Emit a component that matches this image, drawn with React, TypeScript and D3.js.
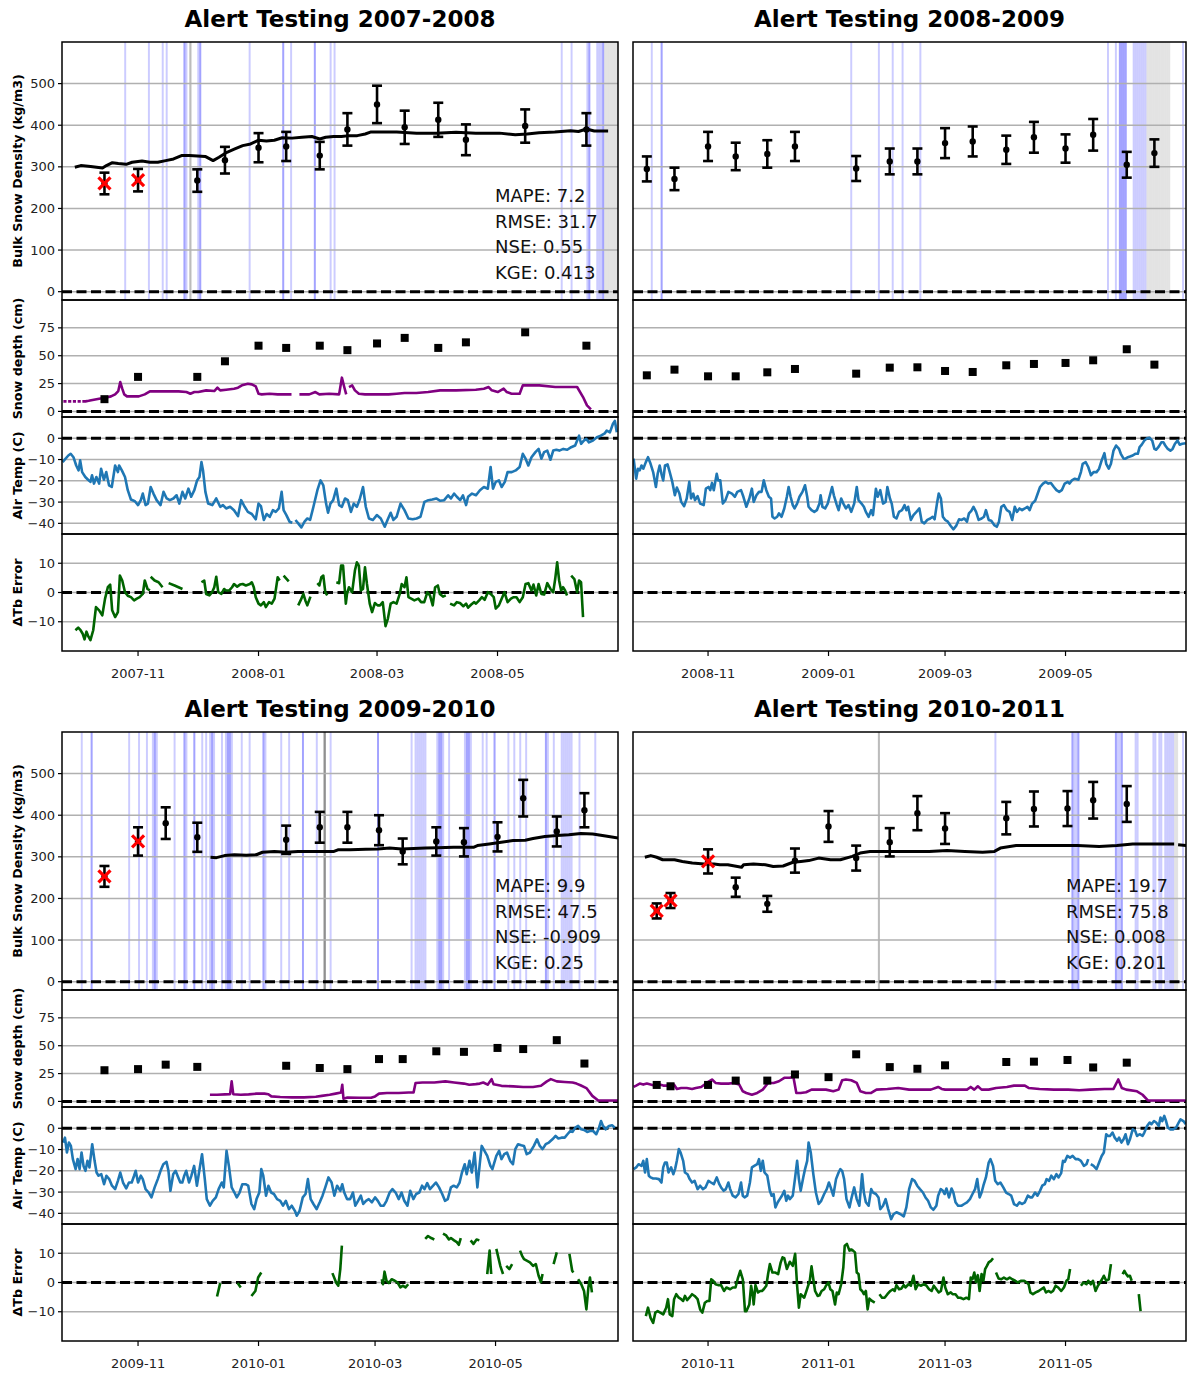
import React from "react";
import * as d3 from "d3";

// Every day offset below counts days from 1 November of the season's first year.
type Pt = [number, number] | null;
type Obs = [number, number, number, number]; // day, density, error, flagged (1 = red cross)

// ---------------- 2007-2008 ----------------
const densObs0708: Obs[] = [
  [-17, 260, 26, 1], [0, 268, 27, 1], [30, 267, 27, 0], [44, 316, 32, 0], [61, 346, 35, 0], [75, 349, 35, 0],
  [92, 327, 33, 0], [106, 390, 39, 0], [121, 450, 45, 0], [135, 395, 40, 0], [152, 413, 41, 0], [166, 365, 37, 0],
  [196, 398, 40, 0], [227, 390, 39, 0],
];
const densModel0708: Pt[] = [
  [-32, 299], [-29, 303], [-24, 301], [-18, 297], [-16, 303], [-13, 310], [-10, 308], [-6, 306], [-3, 311], [2, 314],
  [6, 311], [10, 311], [14, 315], [18, 319], [22, 327], [26, 327], [30, 326], [34, 325], [38, 315], [41, 323], [45, 335],
  [49, 343], [53, 351], [57, 355], [61, 364], [65, 362], [69, 364], [73, 370], [78, 369], [83, 371], [88, 373], [92, 367],
  [95, 371], [99, 373], [103, 373], [107, 375], [111, 375], [115, 379], [118, 384], [123, 384], [131, 384], [141, 381],
  [151, 381], [161, 383], [171, 381], [183, 381], [191, 377], [197, 379], [203, 382], [211, 384], [219, 387], [223, 385],
  [227, 391], [231, 386], [238, 386],
];
const depthObs0708: [number, number][] = [
  [-17, 11], [0, 31], [30, 31], [44, 45], [61, 59], [75, 57], [92, 59], [106, 55], [121, 61], [135, 66], [152, 57],
  [166, 62], [196, 71], [227, 59],
];
const depthModel0708: Pt[] = [
  [-37.8, 9], [-36.2, 9], null, [-35.4, 9], [-33.8, 9], null, [-33, 9], [-31.4, 9], null, [-30.6, 9], [-29, 9], null,
  [-28.2, 9], [-26.6, 9], [-25, 9.5], [-23.7, 10], [-19.7, 11.4], [-16.7, 12.3], [-13.7, 13.5], [-11.6, 15.3], [-10, 18.3],
  [-9, 26.4], [-8, 20.4], [-7, 15.3], [-5.6, 13.5], [-2.6, 13.5], [0.4, 13.5], [3.4, 15.3], [6, 18], [10.4, 18], [20.5, 18],
  [24.5, 17.4], [26.5, 15.9], [28.5, 17.4], [30.5, 17.4], [34.5, 18.9], [38.6, 18.3], [40.2, 21.3], [41.6, 18.9],
  [44.6, 19.5], [48.6, 20.4], [50.6, 21.3], [52.6, 23.4], [55.6, 24.9], [57.6, 24.3], [59.6, 22.5], [61, 15.9], [62.6, 15.3],
  [66.6, 15.9], [70.7, 15.3], [74.7, 15.3], [77.7, 15.3], null, [81.7, 15.3], [86.7, 15.3], [89.8, 17.4], [91.8, 15.3],
  [96.8, 15.9], [101.8, 15.3], [103.2, 30.3], [104.4, 21.9], [105.4, 15.3], null, [106.8, 21.9], [108.4, 23.4],
  [109.8, 18.9], [111.8, 15.9], [114.9, 15.3], [120.9, 15.3], [126.9, 15.3], [130.9, 15.9], [134.9, 16.5], [140.9, 16.5],
  [146.9, 17.4], [152.9, 18.9], [161, 18.9], [171, 19.5], [175.1, 20.4], [177.5, 21.9], [179.1, 18.9], [182.1, 17.4],
  [185.1, 20.4], [186.7, 17.4], [189.1, 15.9], [193.2, 15.9], [194.8, 23.4], [197.2, 23.4], [203.2, 23.4], [211.2, 21.9],
  [222.3, 21.9], [225.3, 12.9], [227.3, 5.4], [229.3, 1.8],
];
const airTemp0708: Pt[] = [
  [-38.2, -11.2], [-35.3, -8.1], [-34.1, -7.3], [-32.7, -8.9], [-31.3, -12.8], [-30.1, -15.1], [-29.3, -10.4], [-28.3, -15.9],
  [-26.7, -18.2], [-25.3, -19.5], [-24.1, -20.5], [-23.3, -17.4], [-22.3, -21.3], [-21.1, -18.2], [-19.7, -21.3],
  [-18.7, -14.3], [-17.3, -19.5], [-16.1, -15.9], [-14.7, -22.1], [-13.3, -22.9], [-11.6, -12.8], [-10.2, -15.9],
  [-9.6, -12.8], [-8.2, -15.1], [-6.6, -18.2], [-5.2, -24.4], [-3.6, -28.8], [-1.6, -29.6], [0, -31.4], [1.4, -29.1],
  [2.4, -26], [3.8, -31.4], [5, -30.7], [6.4, -22.9], [7.8, -26], [9.4, -29.1], [11.4, -31.4], [12.9, -25.2], [14.5, -28.3],
  [16.1, -29.1], [17.9, -28.3], [19.5, -26.8], [20.9, -30.7], [22.5, -25.2], [23.9, -28.3], [25.5, -23.7], [26.9, -27.5],
  [28.5, -24.4], [29.9, -19.8], [31.1, -18.2], [32.1, -11.2], [32.9, -15.1], [34.1, -25.2], [35.5, -30.7], [37.6, -31.4],
  [39.6, -28.3], [41.6, -32.2], [43, -31.4], [44.6, -33], [46.6, -32.2], [48.6, -33.8], [50.6, -36.6], [52.2, -29.1],
  [54, -32.2], [55.6, -34.6], [57.6, -35.6], [59.6, -38.1], [61, -30.7], [62.2, -31.9], [63.7, -38.4], [65.1, -35.6],
  [66.7, -36.9], [68.3, -33.8], [69.7, -34.6], [71.3, -33], [72.7, -25.2], [73.7, -33.8], [75.1, -36.1], [76.7, -39.2],
  [78.1, -39.7], null, [79.7, -38.4], [81.1, -40], [82.7, -41.9], [84.3, -39.2], [85.7, -37.7], [87.1, -38.4], [88.8, -32.2],
  [90.8, -24.4], [92.4, -19.8], [93.8, -22.1], [95.2, -30.7], [96.2, -35], [97.4, -30.7], [98.8, -29.1], [100.4, -23.7],
  [101.8, -31.4], [103.2, -32.2], [104.8, -28.3], [106.2, -29.1], [107.8, -34.6], [109.2, -30.7], [110.8, -32.2],
  [112.2, -28.8], [113.9, -22.9], [115.3, -32.2], [116.9, -37.7], [118.9, -38.4], [120.9, -36.1], [122.9, -37.7],
  [124.9, -41.6], [126.3, -38.4], [127.9, -35], [129.3, -38.4], [130.9, -36.9], [132.9, -30.7], [134.9, -33.8],
  [136.9, -37.7], [139, -38.1], [141, -37.7], [143, -36.9], [145, -29.9], [147, -29.1], [149, -28.8], [151, -28.3],
  [153, -29.4], [155, -29.1], [157, -26.8], [158.4, -28.3], [160, -26], [161.4, -27.5], [163.1, -29.1], [164.5, -26.8],
  [166.1, -31.4], [167.1, -27.5], [169.1, -26], [171.1, -26.8], [173.1, -24.4], [175.1, -22.9], [177.1, -23.7],
  [178.5, -13.5], [179.7, -23.7], [181.1, -20.5], [182.7, -19.8], [184.1, -22.9], [185.7, -20.5], [187.1, -15.9],
  [189.2, -15.9], [191.2, -15.1], [193.2, -13.5], [194.8, -7.3], [196.2, -9.6], [197.6, -12.8], [199.2, -8.9], [201.2, -6.5],
  [202.8, -5], [204.2, -9.6], [205.6, -6.5], [207.2, -5.8], [208.8, -10.1], [210.2, -5.8], [211.8, -5.4], [213.3, -5.8],
  [215.3, -5], [217.3, -5.4], [219.3, -4.2], [221.3, -3.4], [223.3, 1.2], [224.3, -2.6], [225.7, -1.1], [226.9, -0.3],
  [228.3, -1.9], [230.3, -1.1], [232.3, 0.5], [234.3, 1.2], [236.3, 2.3], [237.3, 3.6], [238.9, 2.8], [240.4, 6.7],
  [241.4, 8.2], [242.4, 2.8],
];
const dTb0708: Pt[] = [
  [-31.7, -12.9], [-30.3, -12], [-29.1, -12.9], [-28.1, -14], [-27.1, -16], [-26.1, -13.4], [-25.1, -15.1], [-24.1, -16.3],
  [-22.7, -12.9], [-21.3, -5], [-19.7, -6.1], [-18.1, -7.8], [-16.7, -2.1], [-15.3, 1.8], [-14.1, 2.7], [-13.1, -6.1],
  [-11.6, -8.4], [-10.2, -6.7], [-9.2, 5.8], [-8, 4.1], [-6.6, 0.1], [-5.2, -1.1], [-3.6, -1.6], [-2, -2.7], [-0.6, -2.1],
  [0.8, -1.6], [2.4, -0.5], [3.4, 4.1], [4.8, 1.2], [6, 0.7], null,
  [6.4, 5.4], [8.4, 4.1], [10.4, 3.5], [12.4, 1.8], null, [15.5, 3.2], [18.5, 2.4], [22.5, 1.2], null,
  [32.1, 3.5], [33.5, 4.1], [34.5, -0.5], [36.1, -1], [37.5, 0.1], [38.6, 1.8], [39.6, 5.4], [40.6, 0.1], [42.2, -0.5],
  [43.6, 1.2], [44.6, 0.7], [46.2, 0.7], [47.6, 1.8], [48.6, 2.9], [50.2, 2], [51.6, 2.7], [53, 2.9], [54.6, 2.4],
  [56.6, 2.9], [57.6, 3.5], [58.6, 1.8], [59.6, -1.6], [61, -3.8], [62.2, -4.4], [63.7, -3.3], [64.7, -5], [66.3, -3.3],
  [67.7, -3.8], [69.1, -2.1], [70.7, 5.2], [71.7, 4.1], null, [73.7, 5.8], [76.3, 3.8], null,
  [81.1, -4.4], [82.3, -2.7], [83.7, -0.5], [84.7, -2.7], [85.7, -4.4], [87.3, -1.4], null,
  [90.8, 3.2], [91.8, 2.4], [92.8, 5.2], [93.8, 5.8], [94.8, 0.1], [95.8, -1], null,
  [100.4, 3.5], [101.8, 3.2], [102.8, 9.2], [103.8, 9.2], [105.2, -3.8], [105.8, -0.5], [106.8, 1.8], [108.4, 0.1],
  [109.8, 7.5], [110.8, 10.3], [111.8, 9.2], [112.8, 0.7], [113.9, 1.2], [114.9, 8.6], [115.9, 2.9], [117.3, -3.8],
  [118.5, -6.7], [119.9, -3.6], [121.3, -4.4], [122.5, -4.4], [123.9, -3.3], [125.3, -11.5], [126.5, -8.9], [127.9, -3.8],
  [129.3, -3.3], [130.9, -3.8], [132.5, -0.5], [133.5, 2.9], [134.9, 1.8], [135.9, 5.2], [136.9, -1.6], [138.3, -2.1],
  [139.9, -2.7], [141.9, -2.1], [143.3, -3.3], [144.9, -3.3], [146.5, 0.1], [147.8, -1], [149.2, -4.4], [150.4, 1.8],
  [151.8, 2.4], [152.8, -0.5], [154.4, -1.4], [155.8, -1], null,
  [158, -3.8], [160, -4.4], [161.4, -3.3], [163, -3.6], [164.7, -4.7], [166.1, -3.8], [167.1, -5.2], [168.7, -4.1],
  [170.1, -3.3], [171.1, -3.8], [172.7, -2.7], [174.1, -1.6], [175.5, -2.5], [177.1, 0.1], [178.5, -0.5], [180.1, -1.6],
  [181.1, -5.5], [182.7, -4.4], [184.1, -2.1], [185.5, 0.1], [187.1, -3.3], [188.8, -2.1], [190.2, -1.6], [191.6, -1.6],
  [193.2, -3.3], [194.8, -1.6], [196.2, 2.9], [197.6, 3.2], [199.2, 0.7], [200.2, 2.7], [201.6, -1], [202.8, 2.9],
  [204.2, -0.5], [205.6, -0.7], [207.2, 3.2], [208.8, 1.2], [210.2, 0.1], [211.2, 4.6], [212.2, 10.3], [213.2, 4.1],
  [214.2, 0.7], [215.2, 1.8], [216.2, 0.7], [217.2, -1], null,
  [219.3, 5.8], [220.9, 4.6], [222.3, 0.1], [223.3, 4.1], [224.3, 3.5], [225.3, -8.4],
];
const blueDays0708 = [-7, 5, 12, 14, 23, 23, 24, 30, 31, 31, 56, 73, 73, 77, 89, 89, 97, 99, 214, 219, 227, 228, 228, 232, 233, 234, 235, 235];
const grayDays0708 = [26, 26, 26, 236, 237, 238, 239, 240, 241, 242];
const stats0708 = ["MAPE: 7.2", "RMSE: 31.7", "NSE: 0.55", "KGE: 0.413"];

// ---------------- 2008-2009 ----------------
const densObs0809: Obs[] = [
  [-31, 295, 30, 0], [-17, 271, 27, 0], [0, 349, 35, 0], [14, 325, 33, 0], [30, 331, 33, 0], [44, 349, 35, 0],
  [75, 296, 30, 0], [92, 313, 31, 0], [106, 313, 31, 0], [120, 357, 36, 0], [134, 361, 36, 0], [151, 341, 34, 0],
  [165, 371, 37, 0], [181, 344, 34, 0], [195, 377, 38, 0], [212, 305, 31, 0], [226, 333, 33, 0],
];
const densModel0809: Pt[] = [];
const depthObs0809: [number, number][] = [
  [-31, 32.4], [-17, 37.5], [0, 31.5], [14, 31.5], [30, 35.1], [44, 38.1], [75, 33.9], [92, 39.3], [106, 39.6],
  [120, 36.3], [134, 35.4], [151, 41.4], [165, 42.6], [181, 43.5], [195, 45.9], [212, 55.8], [226, 42],
];
const depthModel0809: Pt[] = [];
const airTemp0809: Pt[] = [
  [-37.7, -9.6], [-36.4, -19], [-35.5, -14.3], [-34.6, -15.1], [-33.7, -12.8], [-32.8, -14.3], [-31.5, -11.2], [-30.4, -8.9],
  [-29.1, -12], [-27.8, -15.9], [-26.4, -22.9], [-25.5, -16.7], [-24.5, -12.8], [-23.6, -16.7], [-22.7, -19.8],
  [-21.8, -12.8], [-20.5, -12.3], [-19.4, -15.9], [-18.1, -20.5], [-16.8, -26.8], [-15.8, -23.2], [-14.5, -26],
  [-13.6, -29.9], [-12.1, -31.9], [-10.8, -28.3], [-9.5, -20.5], [-8.6, -28.3], [-7.5, -26], [-6.6, -29.1], [-5.3, -27.2],
  [-4, -30.7], [-2.2, -31.4], [-1.1, -23.7], [0.2, -22.9], [1.1, -24.4], [2, -21], [2.9, -24.4], [4.4, -16.7], [5.1, -19.8],
  [6.2, -19.8], [7.5, -30.7], [8.8, -29.1], [10.3, -25.2], [12.1, -26], [13.6, -27.5], [14.8, -25.2], [16.7, -24.4],
  [17.9, -27.5], [19.4, -32.2], [20.9, -28.3], [22.2, -23.7], [23.1, -29.9], [24.5, -26.8], [25.8, -25.2], [27.1, -25.2],
  [28.2, -19.8], [29.5, -24.4], [30.8, -27.5], [31.9, -28.3], [32.6, -36.9], [33.7, -37.7], [35, -36.9], [35.9, -35.3],
  [37.2, -36.9], [38.6, -33], [39.9, -27.5], [40.8, -22.9], [41.8, -27.5], [42.9, -31.4], [43.8, -33], [45.1, -30.7],
  [46.3, -27.5], [47.8, -25.2], [49.1, -22.1], [50.2, -27.5], [50.9, -32.2], [52.4, -33.8], [53.8, -34.6], [55.1, -33.8],
  [56.4, -30.7], [57, -26.8], [57.9, -32.2], [59.3, -33], [60.6, -30.7], [61.5, -27.5], [62.8, -22.9], [63.7, -26.8],
  [65.2, -31.4], [66.1, -33.8], [67.4, -28.3], [68.5, -30.7], [69.8, -33], [71.1, -31.4], [72.5, -34.6], [74, -30.7],
  [75.3, -22.9], [76.2, -29.1], [77.7, -30.7], [78.9, -32.2], [79.9, -34.6], [81.3, -36.9], [82.6, -33.8], [83.5, -36.1],
  [85, -23.7], [85.9, -27.5], [87.2, -24.4], [88.6, -30.7], [89.9, -29.9], [90.8, -22.9], [92.1, -28.3], [93, -30.7],
  [94.1, -36.9], [95.4, -37.7], [96.7, -34.6], [98.2, -33.8], [99.5, -31.4], [100.4, -33.8], [101.3, -32.2],
  [102.7, -38.4], [104, -36.1], [105.5, -34.6], [107, -33], [108.2, -39.2], [109.5, -40], [111, -38.4], [112.5, -37.7],
  [113.7, -36.9], [114.7, -38.1], [115.9, -30.7], [116.8, -26], [117.9, -28.3], [118.9, -36.9], [120.1, -38.4],
  [121.4, -39.2], [122.9, -41.2], [124.2, -42.8], [125.6, -41.2], [127.1, -38.1], [128.4, -38.4], [129.7, -37.7],
  [131.1, -39.2], [132.1, -35.3], [133.3, -34.1], [134.4, -32.2], [135.7, -34.6], [137, -38.4], [138.5, -37.7],
  [139.7, -36.9], [140.7, -33.8], [142.1, -38.4], [143.4, -38.8], [144.9, -40.8], [146.2, -41.6], [147.3, -39.2],
  [148.5, -32.2], [149.8, -31.4], [151.3, -33.8], [152.7, -34.6], [154, -38.4], [155.3, -32.2], [156.4, -34.6],
  [157.7, -33], [159, -33.8], [160.4, -33], [161.7, -32.2], [162.8, -33.8], [164.1, -30.7], [165.6, -29.4], [166.8, -26.3],
  [168.1, -22.9], [169.6, -21.3], [170.9, -20.5], [172.3, -21.3], [173.6, -21], [175.1, -22.9], [176.4, -24.4],
  [177.8, -25.2], [179.1, -24.4], [180.6, -21.3], [182.1, -20.5], [183, -21.3], [184.2, -19.8], [185.7, -19], [187.5, -19.5],
  [188.8, -15.9], [189.7, -12], [191.2, -11.2], [192.5, -13.5], [193.9, -17.4], [195.2, -15.9], [196.7, -15.9], [198, -14.3],
  [199.3, -10.4], [200.7, -7], [201.6, -12], [202.9, -14.3], [204, -12], [205.3, -5.8], [206.6, -3.4], [208.1, -5],
  [209, -7.3], [210.4, -9.6], [211.4, -9.6], [212.6, -8.9], [213.6, -8.6], [215, -8.1], [216.3, -7.3], [217.6, -7.3],
  [218.5, -4.2], [219.6, -3], [220.9, -1.1], [222.3, 0], [223.6, 0.2], [224.9, -1.1], [226, -5], [226.9, -5.4], [228.2, -3.9],
  [229.5, -1.9], [230.6, -1.9], [231.5, -3.4], [232.8, -5], [234.1, -5.8], [235.2, -5], [236.4, -2.6], [237.7, -1.1],
  [238.8, -3], [240.1, -2.6], [241.9, -2.3],
];
const dTb0809: Pt[] = [];
const blueDays0809 = [-29, -24, -24, 72, 86, 93, 98, 107, 202, 206, 208, 209, 210, 211, 208, 209, 210, 211, 215, 216, 217, 218, 219, 220, 221, 240];
const grayDays0809 = [222, 223, 224, 225, 226, 227, 228, 229, 230, 231, 232, 233];
const stats0809: string[] = [];

// ---------------- 2009-2010 ----------------
const densObs0910: Obs[] = [
  [-17, 253, 25, 1], [0, 337, 34, 1], [14, 381, 38, 0], [30, 347, 35, 0], [75, 341, 34, 0], [92, 371, 37, 0],
  [106, 371, 37, 0], [122, 364, 36, 0], [134, 313, 31, 0], [151, 337, 34, 0], [165, 335, 34, 0], [182, 348, 35, 0],
  [195, 441, 44, 0], [212, 361, 36, 0], [226, 412, 41, 0],
];
const densModel0910: Pt[] = [
  [36.7, 299], [39.7, 298], [43.8, 303], [48.8, 305], [54.8, 304], [59.9, 305], [63, 311], [69, 313], [75, 311], [81, 313],
  [87, 313], [93.1, 313], [99.2, 313], [101.2, 317], [107.3, 317], [115.3, 318], [121.4, 319], [127.4, 321], [133.5, 319],
  [139.5, 320], [145.6, 321], [151.6, 322], [159.7, 323], [169.8, 323], [171.8, 327], [177.8, 331], [183.9, 335],
  [189.9, 339], [196, 340], [200, 344], [206, 349], [212.1, 351], [218.1, 353], [224.2, 356], [230.2, 355], [234.3, 352],
  [238.3, 349], [243.3, 345],
];
const depthObs0910: [number, number][] = [
  [-17, 28], [0, 29], [14, 33], [30, 31], [75, 32], [92, 30], [106, 29], [122, 38], [134, 38], [151, 45], [165, 44.5],
  [182, 48], [195, 47], [212, 55], [226, 34],
];
const depthModel0910: Pt[] = [
  [36.4, 6], [40, 6], [44, 6.3], [46.6, 6.5], [47.4, 18], [48.2, 6.5], [52, 6], [56, 6.3], [60, 7], [64, 7], [66, 6.5],
  [67.5, 4.5], [72, 4], [78, 3.6], [84, 3.6], [90, 4.2], [93, 5], [97, 6], [100, 7], [102.8, 8], [103.4, 15], [104, 2.5],
  [106, 3.5], [112, 3.3], [118, 3.3], [120, 4.5], [122, 7], [126, 7.5], [132, 7.5], [137, 8], [139.5, 8], [140.5, 16.5],
  [144, 17], [150, 17], [155.6, 18], [160, 17], [165, 16], [167.7, 15], [171, 15.5], [173, 16], [174.8, 17], [177, 15],
  [179, 20], [180, 15.5], [184, 14], [190, 13.5], [195, 13], [200, 13], [204, 14], [207, 18], [209, 20], [212, 18],
  [216, 17.5], [220, 17], [222, 16], [224, 14.5], [227, 12], [230, 5], [233, 0.8], [238, 0.8], [243, 0.8],
];
const airTemp0910: Pt[] = [
  [-38, -6.7], [-37, -4.4], [-36, -11.4], [-35, -6.7], [-34, -8.3], [-33, -14.5], [-31.6, -19.2], [-30.6, -14.5],
  [-29.6, -19.2], [-28.6, -11.4], [-27.6, -17.7], [-26.6, -20], [-25.6, -15.3], [-24.6, -18.4], [-23.2, -7.5], [-22, -15.3],
  [-21, -20.8], [-20, -22.3], [-18.6, -21.6], [-17.2, -26.3], [-16, -22.3], [-14.6, -23.9], [-13.2, -27], [-11.6, -28.6],
  [-10.2, -24.7], [-9, -20.8], [-7.6, -25.5], [-6, -28.3], [-4.6, -25.5], [-3.2, -25.5], [-2, -22.3], [-1.2, -20],
  [0, -25.5], [1.4, -22.3], [2.4, -23.9], [3.8, -28.6], [5.4, -30.2], [6.8, -32.5], [8.4, -27.8], [10, -23.9], [11.4, -20],
  [12.8, -16.9], [14.4, -15.8], [15.4, -20], [16.4, -29.4], [17.8, -21.6], [19, -20], [20, -22.3], [21.4, -25.5],
  [22.4, -25.5], [23.4, -22.3], [24.4, -20], [25.8, -25.5], [27, -22.3], [28.4, -17.7], [29.8, -27], [31.4, -17.7],
  [32.4, -12.2], [33.8, -23.9], [34.8, -33.3], [36.4, -36.4], [37.8, -34.1], [39.4, -32.5], [40.8, -28.6], [42.4, -25.5],
  [43.4, -27.8], [44.8, -10.6], [46, -17.7], [47.4, -27.8], [48.8, -30.2], [50, -32.5], [51.4, -30.2], [52.8, -26.3],
  [54.4, -26.3], [55.8, -27], [57.4, -35.6], [58.8, -38], [60, -33.3], [61.4, -30.2], [62.4, -19.2], [63.4, -22.3],
  [64.8, -31.7], [66, -27], [67.4, -30.2], [68.8, -30.9], [70.4, -33.3], [72, -34.1], [73.4, -36.4], [74.8, -34.1],
  [76.4, -38], [77.8, -36.4], [79.4, -38.8], [80.4, -41.1], [81.8, -38.8], [83.4, -32.5], [84.8, -30.9], [86, -23.9],
  [87.4, -33.3], [88.8, -35.6], [90.4, -38], [92, -34.8], [93.4, -31.7], [94.8, -27.8], [96.4, -23.1], [98, -25.5],
  [99.4, -31.7], [100.8, -27], [102.4, -29.4], [103.4, -26.3], [104.4, -30.2], [105.8, -33.3], [107.4, -33.3],
  [108.8, -30.2], [110, -36.4], [111.4, -34.1], [112.8, -31.7], [114, -35.6], [115.4, -34.1], [116.8, -33.3],
  [118.4, -34.8], [120, -32.5], [121.4, -34.1], [122.8, -36.4], [124.4, -36.4], [125.8, -34.1], [127.4, -30.2],
  [128.8, -28.6], [130.4, -30.2], [132, -33.3], [133.4, -30.2], [134.8, -34.1], [136.4, -36.4], [137.8, -29.4],
  [139.4, -33.3], [140.8, -30.9], [142.4, -30.2], [143.8, -27], [145, -28.6], [146.4, -25.8], [147.8, -28.6], [149.4, -27],
  [150.8, -25.5], [152.4, -27.8], [154, -30.9], [155.4, -34.1], [156.8, -33.3], [158.4, -27.8], [159.8, -27],
  [161.4, -27.8], [162.8, -25.5], [164, -20.8], [165.4, -16.9], [166.4, -21.6], [167.8, -15.3], [169, -20.8],
  [170.4, -11.4], [171.8, -27.8], [173, -16.9], [174, -8.3], [175.4, -10.6], [176.8, -13], [178.4, -17.7], [179.4, -19.2],
  [181.4, -13], [182.8, -10.6], [184, -14.5], [185.4, -12.2], [186.8, -11.4], [188.4, -15.3], [189.8, -16.9], [191, -9.8],
  [192.4, -7.5], [194, -8], [195.4, -8.3], [196.8, -12.2], [198.4, -11.4], [200.4, -8.3], [202, -5.2], [203.4, -8.3],
  [204.8, -9.8], [206.4, -7.5], [208, -6.7], [209.8, -5.2], [211.4, -3.6], [212.8, -4.8], [214.4, -4.4], [216, -4.4],
  [217.4, -2.8], [218.8, -1.3], [220, -1.7], [221.4, 0.3], [222.8, 1.1], [224.4, -0.5], [225.8, -0.8], [227.4, -1.7],
  [228.8, -1.3], [230.4, -1.3], [232, -2.8], [233.4, 0.3], [234.4, 3.4], [235.4, 1.1], [236.8, -0.5], [238.4, 1.1],
  [240, 1.4], [241.4, 0.3],
];
const dTb0910: Pt[] = [
  [40, -4.8], [41.6, -0.2], null, [50.4, -0.2], [52, -1.7], null,
  [57.4, -4.6], [59.4, -2.9], [60.8, 1.7], [62.4, 3.4], null,
  [98.4, 3.2], [100.4, -0.2], [101.4, -1.1], [102.4, 4.6], [103.2, 12.6], null,
  [123.4, 1.1], [124, -0.6], [124.8, 3.7], [125.8, 0.6], [127, -0.2], [128.4, 1.1], [130, 0.6], [131.4, 0], [132.8, -1.7],
  [134, -1.1], [135.4, -1.7], [136.8, -0.6], null,
  [145.4, 14.9], [146.8, 15.9], [148.4, 15.2], [150, 14.7], null,
  [154.4, 16.7], [156, 16.1], [157.4, 14.7], [158.4, 15.2], [160, 14.4], [161.4, 13.8], [162.4, 12.9], [163.4, 15.2], null,
  [168.4, 14.4], [169.8, 13.2], [171.4, 14.7], [172.8, 14.4], null,
  [176.8, 2.9], [178, 10.9], [178.8, 2.9], null,
  [181.4, 11.5], [183.4, 5.7], [184.8, 2.9], null,
  [186.4, 5.7], [188, 4.6], [189.4, 6.3], null,
  [193.4, 10.9], [194.4, 9.2], [195.4, 8], [196.8, 7.5], [198.4, 6.9], [200, 5.7], [201.4, 6.3], [202.8, 2.3], [204, 0.2],
  [204.8, 2.9], null,
  [210.4, 6.3], [212, 10.3], null,
  [218.4, 9.8], [219.8, 4], [220.4, 3.4], null,
  [222.8, 1.1], [224.4, -0.6], [225.8, -2.9], [227, -9.2], [228, -1.7], [228.8, 1.7], [229.8, -3.4],
];
const blueDays0910 = [
  -29, -24, -24, -5, 0, 4, 7, 8, 8, 9, 18, 23, 23, 24, 28, 28, 32, 34, 36, 37, 37, 38, 42, 44, 45, 45, 46, 46, 47, 52, 56,
  63, 63, 64, 72, 76, 83, 83, 90, 97, 121, 121, 138, 140, 141, 142, 143, 144, 145, 151, 152, 152, 153, 153, 154, 157, 165,
  166, 166, 167, 167, 168, 174, 176, 180, 180, 187, 190, 193, 196, 206, 206, 207, 210, 214, 215, 216, 217, 218, 219, 223, 231,
];
const grayDays0910 = [94, 94, 94, 94, 94, 94, 94, 94];
const stats0910 = ["MAPE: 9.9", "RMSE: 47.5", "NSE: -0.909", "KGE: 0.25"];

// ---------------- 2010-2011 ----------------
const densObs1011: Obs[] = [
  [-26, 170, 18, 1], [-19, 195, 18, 1], [0, 289, 29, 1], [14, 227, 23, 0], [30, 187, 19, 0], [44, 291, 29, 0],
  [61, 373, 37, 0], [75, 297, 30, 0], [92, 335, 34, 0], [106, 405, 41, 0], [120, 368, 37, 0], [151, 393, 39, 0],
  [165, 415, 42, 0], [182, 416, 42, 0], [195, 436, 44, 0], [212, 427, 43, 0],
];
const densModel1011: Pt[] = [
  [-32, 299], [-29, 303], [-26, 299], [-23, 293], [-17, 293], [-13, 289], [-8, 285], [-2, 283], [3, 283], [6, 281],
  [10, 281], [17, 275], [18, 281], [23, 283], [29, 281], [33, 277], [38, 278], [43, 287], [47, 289], [51, 291], [56, 297],
  [62, 293], [67, 293], [73, 301], [77, 309], [82, 313], [88, 313], [95, 313], [102, 313], [112, 313], [121, 315],
  [130, 313], [139, 311], [145, 313], [148, 321], [156, 327], [167, 327], [176, 327], [187, 327], [198, 325], [207, 327],
  [215, 331], [226, 331], [236, 331], null, [238, 329], [243, 327],
];
const depthObs1011: [number, number][] = [
  [-26, 14.8], [-19, 13.6], [0, 14.8], [14, 18.7], [30, 18.7], [44, 24.2], [61, 21.8], [75, 42.3], [92, 30.8],
  [106, 29.3], [120, 32.4], [151, 35.4], [165, 35.7], [182, 37.2], [195, 30.5], [212, 34.8],
];
const depthModel1011: Pt[] = [
  [-37.7, 13], [-36.4, 14.2], [-34.6, 16], [-32.8, 15.1], [-31, 16], [-29.1, 15.1], [-27.3, 14.2], [-24.5, 15.1],
  [-22.7, 14.2], [-20, 14.2], [-17.2, 15.1], [-15.8, 11.2], [-13.6, 12.1], [-10.8, 12.1], [-8.1, 11.2], [-6.2, 12.1],
  [-3.5, 13], [-0.7, 16.6], [2, 19.7], [3.8, 16.6], [6.6, 16], [10.3, 16], [13, 16.6], [15.8, 15.1], [17.6, 9.1],
  [19.4, 7.6], [22.2, 6], [24.9, 7.6], [27.7, 10.6], [30.4, 16.6], [33.2, 16.6], [35.9, 18.1], [38.6, 21.2], [41.4, 21.2],
  [43.2, 22.1], [44.7, 7.6], [46.9, 7.6], [49.6, 8.2], [52.4, 10.6], [56, 10.6], [59.7, 10.6], [63.4, 9.1], [66.1, 10.6],
  [67.9, 19], [69.8, 19.7], [72.5, 19], [75.3, 16.6], [77.1, 9.1], [79.9, 7.6], [82.6, 7.6], [85.3, 10.6], [90.8, 11.2],
  [96.3, 12.1], [101.8, 10.6], [107.3, 10.6], [112.8, 10.6], [116.5, 13], [118.3, 11.2], [120.1, 10.6], [125.6, 10.6],
  [131.1, 10.6], [133, 13], [134.8, 10.6], [136.6, 13.6], [138.5, 10.6], [142.1, 10.6], [145.8, 12.1], [151.3, 13],
  [154.9, 14.2], [160.4, 14.2], [162.3, 12.1], [167.8, 11.2], [175.1, 10.6], [182.4, 10.6], [187.9, 10], [193.4, 10.6],
  [200.7, 11.2], [205.3, 11.2], [207.7, 19.7], [209.5, 12.1], [211.7, 10.6], [217.2, 9.1], [220, 6], [222.7, 0.9],
  [226.4, 0.9], [233.7, 0.9], [241.9, 0.9],
];
const airTemp1011: Pt[] = [
  [-37.7, -19.2], [-36.4, -18.4], [-35.2, -16.9], [-33.7, -17.7], [-32.8, -15.3], [-31.9, -20.8], [-31, -14.5], [-30, -22.3],
  [-29.1, -23.1], [-27.8, -23.6], [-26.4, -23.6], [-24.9, -23.9], [-23.6, -25.5], [-22.7, -18.4], [-21.8, -16.1],
  [-20.9, -16.1], [-20, -20.8], [-18.7, -18.4], [-17.6, -21.6], [-16.7, -19.2], [-15.8, -15.3], [-14.8, -9.8],
  [-13.9, -11.4], [-12.6, -15.3], [-11.7, -20.8], [-10.4, -21.6], [-9.3, -23.9], [-8.1, -25.5], [-6.8, -24.7],
  [-5.3, -28.6], [-4, -27], [-2.6, -28.6], [-1.3, -27.8], [0.2, -24.7], [1.5, -25.5], [2.9, -26.3], [4.4, -23.1],
  [5.7, -26.3], [6.6, -27.8], [7.9, -29.4], [9, -28.6], [10.3, -25.5], [11.2, -28.6], [12.5, -31.7], [13.9, -32.5],
  [15.4, -30.9], [16.7, -25.5], [17.6, -31.7], [18.5, -32.5], [19.8, -31.7], [21.2, -25.5], [22.2, -18.4], [23.4, -17.7],
  [24.9, -16.9], [25.8, -14.5], [26.7, -20], [27.7, -15.3], [28.6, -20.8], [30, -22.3], [31.3, -29.4], [32.2, -31.7],
  [33.2, -30.9], [34.1, -37.2], [35.3, -34.8], [36.3, -33.3], [37.4, -31.7], [38.6, -29.4], [39.6, -34.1], [40.5, -31.7],
  [41.4, -33.3], [42.9, -31.7], [44.1, -23.1], [45.1, -15.3], [46, -23.9], [46.9, -29.4], [48.2, -23.1], [49.1, -19.2],
  [50.2, -15.3], [50.9, -6.7], [52, -11.4], [53.3, -21.6], [54.6, -30.2], [56, -35.6], [57.3, -34.1], [58.8, -30.9],
  [60.1, -28.6], [61.2, -25.5], [62.1, -27.8], [63.4, -31.7], [64.8, -23.9], [66.1, -20.8], [67, -19.2], [67.9, -20],
  [68.9, -23.9], [70.1, -33.3], [71.6, -37.2], [72.5, -33.3], [74, -27.8], [75.3, -33.3], [76.6, -36.4], [78, -21.6],
  [78.9, -30.2], [79.9, -34.8], [81.3, -36.4], [82.6, -28.6], [83.5, -30.2], [85, -30.9], [86.3, -32.5], [87.2, -38],
  [88.6, -36.4], [89.9, -33.3], [91.2, -38], [92.7, -42.7], [94, -40.3], [95.4, -39.5], [97.3, -40.3], [99.1, -41.4],
  [100.4, -37.2], [101.8, -28.6], [103.3, -23.9], [104.6, -24.7], [105.9, -27], [107.3, -28.6], [108.8, -30.2],
  [110.1, -32.5], [111.4, -34.1], [112.8, -37.2], [114.1, -38.3], [115.6, -36.4], [116.5, -31.7], [117.8, -28.6],
  [118.9, -29.4], [119.8, -30.9], [120.7, -28.3], [122, -32.5], [123.3, -28.3], [124.2, -30.2], [125.3, -34.8],
  [126.6, -36.4], [128.4, -36.4], [129.7, -35.6], [131.1, -34.8], [132.6, -33.3], [133.9, -30.9], [135.2, -28.6],
  [136.3, -23.9], [137.5, -32.5], [138.5, -30.2], [139.4, -27], [140.7, -23.1], [142.1, -16.1], [143, -14.5],
  [144.3, -17.7], [145.4, -24.7], [146.7, -26.3], [148, -25.5], [149.5, -27.8], [150.9, -30.2], [152.2, -30.9],
  [153.5, -31.7], [154.9, -35.6], [156.4, -36.4], [157.7, -34.8], [159, -35.6], [160.4, -34.8], [161.9, -31.7],
  [163.2, -32.5], [164.1, -32.5], [165.6, -30.2], [166.8, -31.7], [168.1, -29.4], [169.2, -27], [170.5, -26.3],
  [171.4, -23.9], [172.7, -24.7], [173.8, -22.3], [175.1, -23.9], [176.4, -21.6], [177.5, -23.1], [178.8, -21.1],
  [179.7, -15.3], [180.6, -15.8], [181.9, -13], [183.3, -13.8], [184.6, -13], [186.1, -14.5], [187.4, -14.5],
  [188.8, -15.3], [190.3, -17.7], [191.6, -16.9], [192.5, -14.5], null, [193.8, -16.9], [195.2, -17.7], [196.7, -19.2],
  [198, -16.1], [199.3, -13], [200.4, -11.4], [201.6, -2.8], [202.6, -3.6], [203.5, -3.6], [204.8, -2], [205.9, -4.4],
  [207.1, -5.9], [208.1, -4.4], [209.3, -6.7], [210.4, -5.2], [211.4, -2.8], [212.6, -7.5], [213.6, -5.2], [215, -0.5],
  [216.3, -1.3], [217.2, -3.6], [218.5, -2.8], [220, -3.6], [220.9, -2], [222.3, 1.1], [223.6, 2.7], [224.5, 1.9],
  [225.8, 3.4], [226.9, 2.7], [228.2, 1.1], [229.1, 5], [230, 3.4], [231, 5.8], [231.9, 3.4], [232.8, 0.3], [234.1, -0.5],
  [235.5, -0.5], [237, 0.3], [238.3, 2.7], [239.2, 4.2], [240.7, 3.4], [241.9, 1.9],
];
const dTb1011: Pt[] = [
  [-31.5, -11.5], [-30.4, -8.6], [-29.1, -12.1], [-27.8, -13.8], [-26.7, -10.3], [-25.5, -9.8], [-24.2, -10.3],
  [-22.7, -10.9], [-21.2, -8.6], [-20.3, -5.7], [-19.4, -10.9], [-18.1, -11.5], [-17.2, -5.7], [-16.1, -4], [-14.8, -5.2],
  [-13.6, -5.7], [-12.6, -6.3], [-11.7, -4.6], [-10.6, -6], [-9.5, -5.2], [-8.1, -4], [-6.8, -4.6], [-5.3, -5.7],
  [-4, -9.2], [-2.9, -10.3], [-1.6, -6.9], [-0.4, -6.3], [0.7, -6.3], [1.6, 1.1], [2.6, 0.6], [3.8, -0.6], [5.1, -0.9],
  [6.6, -0.9], [8.1, -2.9], [9.3, -1.7], [11.2, -2.3], [12.5, -1.7], [13.9, -1.7], [15.2, 1.7], [16.3, 4], [17.6, 1.1],
  [18.7, -9.8], [19.4, -9.8], [20.9, -7.5], [21.8, -1.1], [22.7, -4.6], [23.1, -7.5], [24, -0.9], [25.3, -3.4],
  [26.4, -2.9], [27.3, -2.9], [28.2, -2.3], [29.5, -1.1], [30.4, 2.9], [31.3, 6.3], [32.6, 3.4], [34.1, 3.4], [35.5, 2.9],
  [36.8, 6.9], [37.7, 8.6], [38.6, 8.3], [39.9, 4.6], [41.4, 7.1], [42.9, 5.7], [44.1, 9.8], [45.1, -1.1], [46, -8.6],
  [46.9, -4], [48.7, -5.2], [50.2, -2.1], [51.5, 0.6], [52.4, 5.5], [53.3, 1.1], [54.2, -2.9], [55.5, -4.6], [56.4, -4.4],
  [57.5, -2.9], [58.8, -2.3], [59.7, -1.1], [61, 0], [61.9, -2.3], [63, -2.9], [64.3, -7.5], [65.2, -3.4], [66.1, -4],
  [67.4, -0.6], [68.5, 5.2], [69.2, 12.6], [70.3, 13.2], [71.6, 10.9], [72.5, 11.3], [73.4, 10.9], [74.4, 10.3],
  [75.3, 3.4], [76.2, 2.9], [77.1, -2.3], [78, -2.9], [78.9, -4], [79.9, -2.9], [80.8, -9.2], [81.7, -5.5], [83, -6.3],
  [84.4, -6.9], null,
  [86.8, -4], [88.1, -5.2], [89.4, -5.2], [90.8, -4], [92.3, -2.9], [93.6, -2.3], [94.5, -2.9], [95.4, -0.9], [96.7, -2.3],
  [97.8, -2.1], [99.1, -0.9], [100, -1.7], [101.5, -0.6], [102.7, -1.1], [104, 2.3], [105.1, -2.3], [106.4, -0.6],
  [107.7, -1.1], [109.2, -0.6], [110.6, -1.1], [111.9, -2.3], [113.2, -2.9], [114.3, -1.1], [115.6, -2.3], [116.8, -3.4],
  [117.9, -2.9], [119.2, 1.7], [120.1, -1.7], [121.4, -4], [122.9, -3.4], [123.8, -4], [125.3, -4], [126.6, -5.2],
  [127.8, -5.2], [129.3, -5.7], [130.8, -5.2], [132.1, -5.7], [133, 1.7], [133.9, 1.1], [134.8, 3.4], [135.7, 0.2],
  [136.6, 2.5], [137.5, -2.9], [138.5, 2.9], [139.4, 0.6], [140.3, 4.6], [141.2, 5.7], [142.1, 6.9], [143.4, 7.5],
  [144.3, 8.3], null,
  [145.8, 3.4], [147.1, 1.4], [148.5, 1.1], [149.8, 1.7], [151.3, 1.1], [152.7, 1.7], [154, 1.1], [155.5, 0.6], [156.8, 0],
  [158.6, 0.6], [160.1, 0.6], [161.4, 0], [162.3, -0.6], [163.2, -3.4], [164.5, -4], [165.9, -3.4], [167.4, -2.9],
  [168.7, -2.3], [170, -1.7], [171.1, -3.4], [172.3, -2.9], [173.6, -3.4], [174.7, -2.9], [176, -1.1], [177.3, -1.7],
  [178.8, -2.9], [180.2, -1.7], [181.5, 0.6], [182.4, 1.1], [183.3, 4.6], null,
  [188.8, -1.1], [190.1, 0], [191.6, -0.6], [192.5, 0.6], [193.8, -0.6], [194.9, 0.6], [196.2, -2.9], [197.4, -1.1],
  [198.5, 0], [199.5, 1.1], [200.4, 2.3], [201.6, 0.6], [202.9, 1.1], [204, 6.3], null,
  [209.9, 2.9], [210.8, 4], [211.7, 2.9], [212.6, 2.1], [213.6, 2.3], [214.5, 0.6], null,
  [218.1, -4], [219, -9.8],
];
const blueDays1011 = [145, 184, 184, 185, 186, 187, 187, 206, 206, 207, 208, 209, 209, 216, 217, 225, 226, 228, 229, 231, 232, 233, 234, 235, 240];
const grayDays1011 = [86, 86, 86, 236, 237];
const stats1011 = ["MAPE: 19.7", "RMSE: 75.8", "NSE: 0.008", "KGE: 0.201"];

// ---------------- seasons table ----------------
const seasons = [
  { title: "Alert Testing 2007-2008", year: 2007, densObs: densObs0708, densModel: densModel0708, depthObs: depthObs0708, depthModel: depthModel0708, air: airTemp0708, dtb: dTb0708, blue: blueDays0708, gray: grayDays0708, stats: stats0708 },
  { title: "Alert Testing 2008-2009", year: 2008, densObs: densObs0809, densModel: densModel0809, depthObs: depthObs0809, depthModel: depthModel0809, air: airTemp0809, dtb: dTb0809, blue: blueDays0809, gray: grayDays0809, stats: stats0809 },
  { title: "Alert Testing 2009-2010", year: 2009, densObs: densObs0910, densModel: densModel0910, depthObs: depthObs0910, depthModel: depthModel0910, air: airTemp0910, dtb: dTb0910, blue: blueDays0910, gray: grayDays0910, stats: stats0910 },
  { title: "Alert Testing 2010-2011", year: 2010, densObs: densObs1011, densModel: densModel1011, depthObs: depthObs1011, depthModel: depthModel1011, air: airTemp1011, dtb: dTb1011, blue: blueDays1011, gray: grayDays1011, stats: stats1011 },
];

const subplotDefs = [
  { key: "dens", domain: [-20, 600], ticks: [0, 100, 200, 300, 400, 500], label: "Bulk Snow Density (kg/m3)", h: 258 },
  { key: "depth", domain: [-5, 100], ticks: [0, 25, 50, 75], label: "Snow depth (cm)", h: 117 },
  { key: "air", domain: [-45, 10], ticks: [-40, -30, -20, -10, 0], label: "Air Temp (C)", h: 117 },
  { key: "dtb", domain: [-20, 20], ticks: [-10, 0, 10], label: "ΔTb Error", h: 117 },
];

const W = 1187, H = 1374;
const PANEL_X = [62, 633];
const PANEL_W = [556, 553];
const PANEL_Y = [42, 732];
const DAY_DOMAIN: [number, number][] = [[-38.5, 243], [-38, 242]];
const FONT = "'DejaVu Sans', sans-serif";
const GRID = "#b0b0b0";

const fmtTick = (v: number) => (v < 0 ? "\u2212" + Math.abs(v) : String(v));
const fmtMonth = d3.timeFormat("%Y-%m");

function Panel({ s, idx }: { s: (typeof seasons)[number]; idx: number }) {
  const col = idx % 2;
  const row = Math.floor(idx / 2);
  const left = PANEL_X[col];
  const width = PANEL_W[col];
  const x = d3.scaleLinear().domain(DAY_DOMAIN[col]).range([left, left + width]);
  const nov1 = new Date(s.year, 10, 1);
  const monthTicks = [new Date(s.year, 10, 1), new Date(s.year + 1, 0, 1), new Date(s.year + 1, 2, 1), new Date(s.year + 1, 4, 1)];
  const tickDays = monthTicks.map((d) => d3.timeDay.count(nov1, d));

  const out: React.ReactNode[] = [];
  let top = PANEL_Y[row];

  out.push(
    <text key="title" x={left + width / 2} y={PANEL_Y[row] - 15} textAnchor="middle" fontFamily={FONT} fontWeight="bold" fontSize={23}>
      {s.title}
    </text>
  );

  subplotDefs.forEach((sp, k) => {
    const y0 = top;
    const h = sp.h;
    top += h;
    const y = d3.scaleLinear().domain(sp.domain).range([y0 + h, y0]);
    const clipId = `clip-${idx}-${k}`;
    const line = d3
      .line<Pt>()
      .defined((d) => d !== null)
      .x((d) => x((d as [number, number])[0]))
      .y((d) => y((d as [number, number])[1]));

    const g: React.ReactNode[] = [];

    if (sp.key === "dens") {
      s.blue.forEach((d, i) => (
        g.push(<rect key={`b${i}`} x={x(d)} y={y0} width={x(d + 1) - x(d)} height={h} fill="#0000ff" fillOpacity={0.2} />)
      ));
      s.gray.forEach((d, i) => (
        g.push(<rect key={`g${i}`} x={x(d)} y={y0} width={x(d + 1) - x(d)} height={h} fill="#808080" fillOpacity={0.22} />)
      ));
    }

    sp.ticks.forEach((t) =>
      g.push(<line key={`grid${t}`} x1={left} x2={left + width} y1={y(t)} y2={y(t)} stroke={GRID} strokeWidth={1.5} />)
    );
    g.push(
      <line key="zero" x1={left} x2={left + width} y1={y(0)} y2={y(0)} stroke="#000" strokeWidth={3} strokeDasharray="10,4.5" />
    );

    if (sp.key === "dens") {
      if (s.densModel.length) g.push(<path key="model" d={line(s.densModel) || ""} fill="none" stroke="#000" strokeWidth={3} strokeLinejoin="round" />);
      s.densObs.forEach(([d, v, e, flag], i) => {
        const cx = x(d);
        g.push(
          <g key={`o${i}`} stroke="#000" strokeWidth={2.6}>
            <line x1={cx} x2={cx} y1={y(v - e)} y2={y(v + e)} />
            <line x1={cx - 5} x2={cx + 5} y1={y(v - e)} y2={y(v - e)} />
            <line x1={cx - 5} x2={cx + 5} y1={y(v + e)} y2={y(v + e)} />
            <circle cx={cx} cy={y(v)} r={3.2} fill="#000" stroke="none" />
          </g>
        );
        if (flag) {
          const cy = y(v);
          g.push(
            <g key={`x${i}`} stroke="#ff0000" strokeWidth={3.2}>
              <line x1={cx - 6} x2={cx + 6} y1={cy - 6} y2={cy + 6} />
              <line x1={cx - 6} x2={cx + 6} y1={cy + 6} y2={cy - 6} />
            </g>
          );
        }
      });
    } else if (sp.key === "depth") {
      if (s.depthModel.length) g.push(<path key="dm" d={line(s.depthModel) || ""} fill="none" stroke="#800080" strokeWidth={2.6} strokeLinejoin="round" />);
      s.depthObs.forEach(([d, v], i) =>
        g.push(<rect key={`sq${i}`} x={x(d) - 4} y={y(v) - 4} width={8} height={8} fill="#000" />)
      );
    } else if (sp.key === "air") {
      g.push(<path key="air" d={line(s.air) || ""} fill="none" stroke="#1f77b4" strokeWidth={2.6} strokeLinejoin="round" />);
    } else {
      if (s.dtb.length) g.push(<path key="dtb" d={line(s.dtb) || ""} fill="none" stroke="#006400" strokeWidth={2.6} strokeLinejoin="round" />);
    }

    out.push(
      <g key={`sp${k}`}>
        <defs>
          <clipPath id={clipId}>
            <rect x={left} y={y0} width={width} height={h} />
          </clipPath>
        </defs>
        <g clipPath={`url(#${clipId})`}>{g}</g>
        <rect x={left} y={y0} width={width} height={h} fill="none" stroke="#000" strokeWidth={1.5} />
      </g>
    );

    if (col === 0) {
      out.push(
        <g key={`yax${k}`} fontFamily={FONT} fontSize={13}>
          {sp.ticks.map((t) => (
            <g key={t}>
              <line x1={left - 4} x2={left} y1={y(t)} y2={y(t)} stroke="#000" strokeWidth={1.2} />
              <text x={left - 7} y={y(t)} textAnchor="end" dominantBaseline="central" fill="#222">
                {fmtTick(t)}
              </text>
            </g>
          ))}
          <text
            transform={`translate(${17},${y0 + h / 2}) rotate(-90)`}
            textAnchor="middle"
            dominantBaseline="central"
            fontWeight="bold"
            fontSize={12.7}
          >
            {sp.label}
          </text>
        </g>
      );
    }

    if (sp.key === "dens" && s.stats.length) {
      out.push(
        <g key="stats" fontFamily={FONT} fontSize={18} fill="#111">
          {s.stats.map((t, i) => (
            <text key={t} x={left + 433} y={y0 + 160 + i * 25.7}>
              {t}
            </text>
          ))}
        </g>
      );
    }
  });

  const bottom = top;
  out.push(
    <g key="xax" fontFamily={FONT} fontSize={13}>
      {tickDays.map((d, i) => (
        <g key={i}>
          <line x1={x(d)} x2={x(d)} y1={bottom} y2={bottom + 5} stroke="#000" strokeWidth={1.2} />
          <text x={x(d)} y={bottom + 27} textAnchor="middle" fill="#222">
            {fmtMonth(monthTicks[i])}
          </text>
        </g>
      ))}
    </g>
  );

  return <g>{out}</g>;
}

export default function App() {
  return (
    <svg
      width={W}
      height={H}
      viewBox={`0 0 ${W} ${H}`}
      style={{ position: "absolute", left: 0, top: 0, display: "block", background: "#fff" }}
    >
      <rect x={0} y={0} width={W} height={H} fill="#fff" />
      {seasons.map((s, i) => (
        <Panel key={s.title} s={s} idx={i} />
      ))}
    </svg>
  );
}
